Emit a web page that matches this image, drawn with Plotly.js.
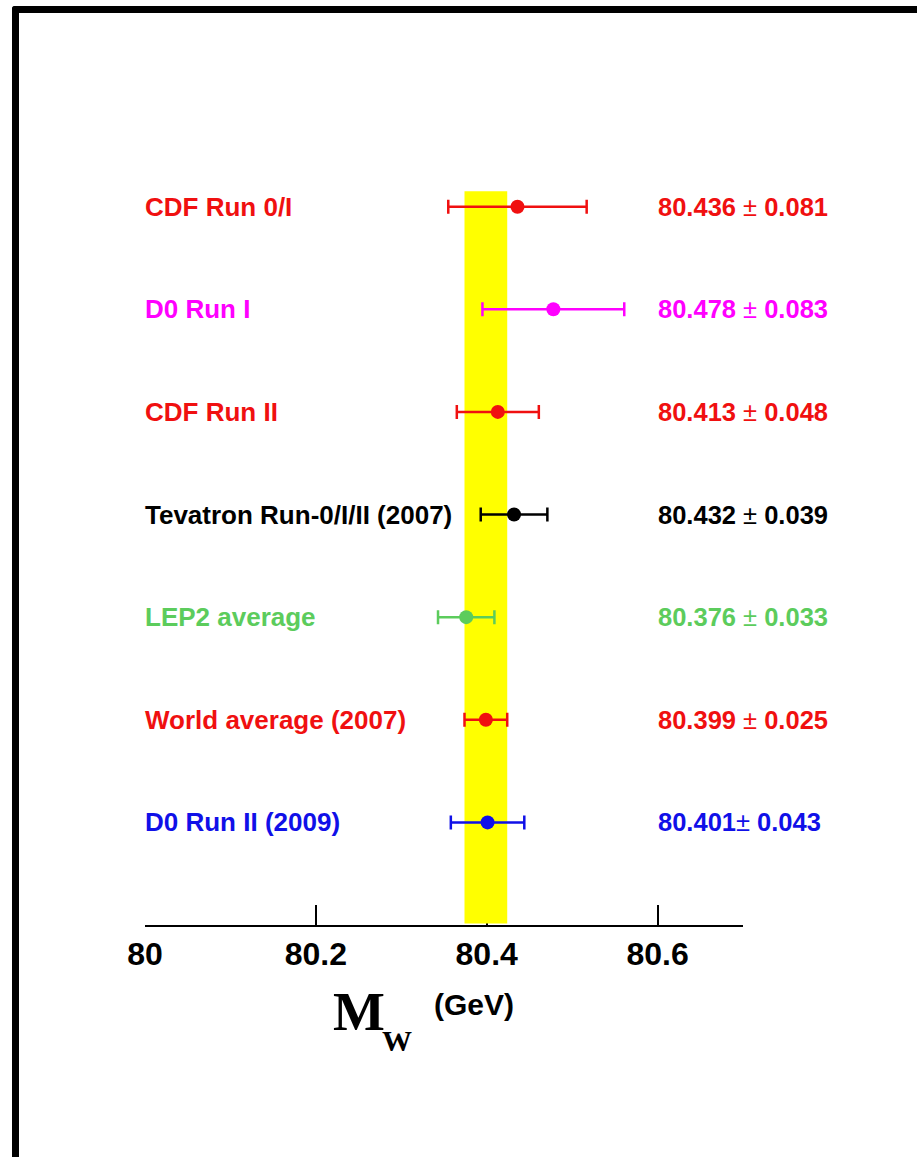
<!DOCTYPE html>
<html>
<head>
<meta charset="utf-8">
<script src="https://cdn.plot.ly/plotly-3.0.1.min.js"></script>
<style>
  html, body { margin: 0; padding: 0; background: #fff; }
  #wrap { position: relative; width: 917px; height: 1157px; overflow: hidden; }
  #chart { position: absolute; left: 0; top: 0; width: 917px; height: 1157px; }
  #frame { position: absolute; left: 12px; top: 6px; width: 1000px; height: 1146px;
           border-left: 7px solid #000; border-top: 7px solid #000; border-bottom: 2px solid #444;
           border-top-left-radius: 3px; pointer-events: none; }
</style>
</head>
<body>
<div id="wrap">
  <div id="chart"></div>
  <div id="frame"></div>
</div>
<script>
// ---- data ----
const labels = ["CDF Run 0/I", "D0 Run I", "CDF Run II", "Tevatron Run-0/I/II (2007)",
                "LEP2 average", "World average (2007)", "D0 Run II (2009)"];
const massValues = [80.436, 80.478, 80.413, 80.432, 80.376, 80.399, 80.401];
const massErrors = [0.081, 0.083, 0.048, 0.039, 0.033, 0.025, 0.043];
const valueTexts = ["80.436 \u00b1 0.081", "80.478 \u00b1 0.083", "80.413 \u00b1 0.048",
                    "80.432 \u00b1 0.039", "80.376 \u00b1 0.033", "80.399 \u00b1 0.025",
                    "80.401\u00b1 0.043"];
const rowColors = ["#f01010", "#ff00ff", "#f01010", "#000000", "#5ccc5c", "#f01010", "#1010e8"];
const rowPos = [7, 6, 5, 4, 3, 2, 1];
const tickVals = [80, 80.2, 80.4, 80.6];
const tickLabels = ["80", "80.2", "80.4", "80.6"];
const bandIndex = 5; // world average defines the yellow band

// ---- traces ----
const bandLo = massValues[bandIndex] - massErrors[bandIndex];
const bandHi = massValues[bandIndex] + massErrors[bandIndex];
const bandTop = rowPos[0] + 0.15;
const bandBottom = 0.015;
const traces = [{
  type: "scatter", mode: "lines",
  x: [bandLo, bandHi, bandHi, bandLo, bandLo],
  y: [bandBottom, bandBottom, bandTop, bandTop, bandBottom],
  fill: "toself", fillcolor: "#ffff00",
  line: { width: 0, color: "#ffff00" },
  hoverinfo: "skip", showlegend: false
}];
for (let i = 0; i < labels.length; i++) {
  traces.push({
    type: "scatter", mode: "markers",
    x: [massValues[i]], y: [rowPos[i]],
    marker: { size: 14, color: rowColors[i] },
    error_x: { type: "data", array: [massErrors[i]], visible: true,
               color: rowColors[i], thickness: 2.5, width: 7 },
    showlegend: false, name: labels[i]
  });
}

// ---- annotations ----
const annotations = [];
for (let i = 0; i < labels.length; i++) {
  annotations.push({
    xref: "paper", yref: "y", x: -0.004, y: rowPos[i], xanchor: "left", yanchor: "middle",
    text: labels[i], showarrow: false,
    font: { family: "Arial, 'Liberation Sans', sans-serif", size: 26, color: rowColors[i], weight: "bold" }
  });
  const parts = valueTexts[i].split("\u00b1");
  annotations.push({
    xref: "paper", yref: "y", x: 0.855, y: rowPos[i], xanchor: "left", yanchor: "middle",
    text: "<b>" + parts[0] + "</b>\u00b1<b>" + parts[1] + "</b>", showarrow: false,
    font: { family: "Arial, 'Liberation Sans', sans-serif", size: 25.5, color: rowColors[i] }
  });
}
// axis title: M_W (GeV)
annotations.push({
  xref: "paper", yref: "paper", x: 0.358, y: -0.105, xanchor: "center", yanchor: "middle",
  text: "<b>M</b>", showarrow: false,
  font: { family: "'Times New Roman', 'Liberation Serif', serif", size: 55, color: "#000" }
});
annotations.push({
  xref: "paper", yref: "paper", x: 0.422, y: -0.140, xanchor: "center", yanchor: "middle",
  text: "<b>W</b>", showarrow: false,
  font: { family: "'Times New Roman', 'Liberation Serif', serif", size: 30, color: "#000" }
});
annotations.push({
  xref: "paper", yref: "paper", x: 0.55, y: -0.097, xanchor: "center", yanchor: "middle",
  text: "<b>(GeV)</b>", showarrow: false,
  font: { family: "Arial, 'Liberation Sans', sans-serif", size: 30, color: "#000" }
});

const layout = {
  width: 917, height: 1157,
  margin: { l: 145, r: 173.5, t: 101, b: 232 },
  paper_bgcolor: "#fff", plot_bgcolor: "#fff",
  showlegend: false,
  xaxis: {
    range: [80, 80.7], showgrid: false, zeroline: false,
    showline: true, linecolor: "#000", linewidth: 2,
    ticks: "inside", ticklen: 20, tickwidth: 2, tickcolor: "#000",
    tickvals: tickVals, ticktext: tickLabels,
    tickfont: { family: "Arial, 'Liberation Sans', sans-serif", size: 32, color: "#000", weight: "bold" },
    ticklabelstandoff: 0,
    layer: "below traces", fixedrange: true
  },
  yaxis: { range: [0, 8.03], visible: false, fixedrange: true },
  annotations: annotations
};

Plotly.newPlot("chart", traces, layout, { displayModeBar: false, staticPlot: true });
</script>
</body>
</html>
